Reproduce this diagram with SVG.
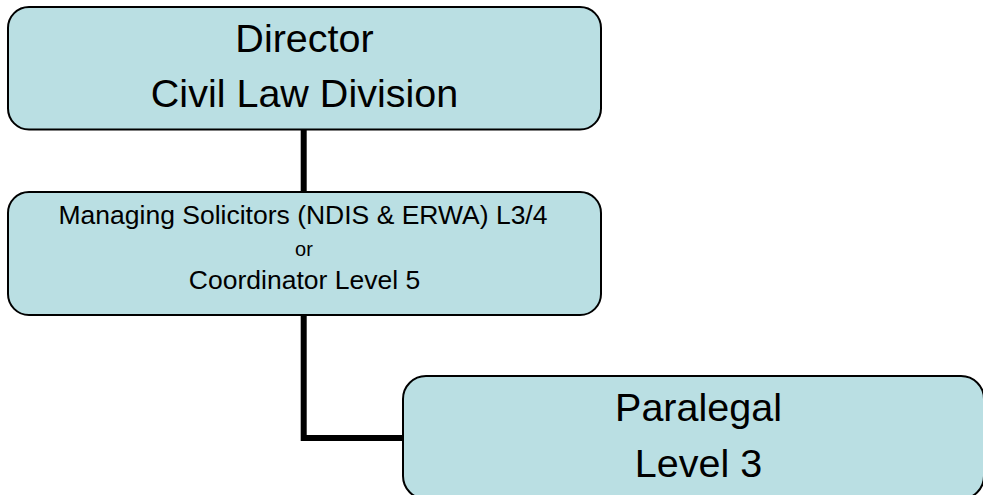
<svg xmlns="http://www.w3.org/2000/svg" width="983" height="495" viewBox="0 0 983 495">
<style>
.box{fill:#BADFE3;stroke:#000;stroke-width:2}
.t{font-family:"Liberation Sans",Arial,sans-serif;fill:#000;text-anchor:middle}
.big{font-size:39.5px}
.mid{font-size:26.5px}
.sm{font-size:20px}
.conn{fill:none;stroke:#000;stroke-width:6}
</style>
<rect width="983" height="495" fill="#fff"/>
<g id="connectors">
<line class="conn" x1="303.7" y1="129" x2="303.7" y2="192"/>
<polyline class="conn" points="303.7,315 303.7,438 403,438"/>
</g>
<g id="director">
<rect class="box" x="8" y="7" width="593" height="122.5" rx="21" ry="21"/>
<text class="t big" x="304.5" y="52">Director</text>
<text class="t big" x="304.5" y="107">Civil Law Division</text>
</g>
<g id="managing">
<rect class="box" x="8" y="192" width="593" height="123" rx="21" ry="21"/>
<text class="t mid" x="303" y="224">Managing Solicitors (NDIS &amp; ERWA) L3/4</text>
<text class="t sm" x="304" y="256">or</text>
<text class="t mid" x="304.5" y="289">Coordinator Level 5</text>
</g>
<g id="paralegal">
<rect class="box" x="403" y="376" width="581" height="123" rx="23" ry="23"/>
<text class="t big" x="698.5" y="421">Paralegal</text>
<text class="t big" x="698.5" y="477">Level 3</text>
</g>
</svg>
